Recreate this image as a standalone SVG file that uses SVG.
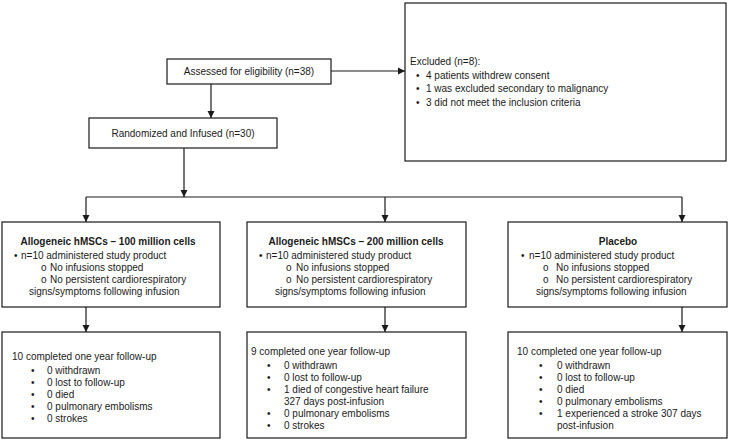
<svg xmlns="http://www.w3.org/2000/svg" width="732" height="442" viewBox="0 0 732 442">
<defs>
<marker id="ah" markerWidth="8" markerHeight="8" refX="7" refY="4" orient="auto" markerUnits="userSpaceOnUse">
<path d="M0,0.5 L7,4 L0,7.5 Z" fill="#1a1a1a"/>
</marker>
<style>
.box{fill:#fff;stroke:#1a1a1a;stroke-width:1.2}
.t{font-family:"Liberation Sans",Arial,sans-serif;font-size:10px;fill:#1a1a1a}
.b{font-weight:bold}
.c{text-anchor:middle}
.ln{fill:none;stroke:#1a1a1a;stroke-width:1.2}
</style>
</defs>
<rect width="732" height="442" fill="#fff"/>

<g id="connectors">
<line class="ln" x1="331" y1="71" x2="405" y2="71" marker-end="url(#ah)"/>
<line class="ln" x1="211" y1="84" x2="211" y2="118" marker-end="url(#ah)"/>
<line class="ln" x1="184" y1="148" x2="184" y2="197" marker-end="url(#ah)"/>
<polyline class="ln" points="86,197 682,197"/>
<line class="ln" x1="86" y1="197" x2="86" y2="222" marker-end="url(#ah)"/>
<line class="ln" x1="385" y1="197" x2="385" y2="222" marker-end="url(#ah)"/>
<line class="ln" x1="682" y1="197" x2="682" y2="222" marker-end="url(#ah)"/>
<line class="ln" x1="86" y1="307" x2="86" y2="332" marker-end="url(#ah)"/>
<line class="ln" x1="385" y1="307" x2="385" y2="332" marker-end="url(#ah)"/>
<line class="ln" x1="682" y1="307" x2="682" y2="332" marker-end="url(#ah)"/>
</g>

<g id="assessed">
<rect class="box" x="167" y="59" width="164" height="25"/>
<text class="t c" x="249" y="75">Assessed for eligibility (n=38)</text>
</g>

<g id="excluded">
<rect class="box" x="405" y="3" width="321" height="158"/>
<text class="t" x="410" y="65">Excluded (n=8):</text>
<text class="t" x="416" y="78.5">•</text><text class="t" x="426" y="78.5">4 patients withdrew consent</text>
<text class="t" x="416" y="92">•</text><text class="t" x="426" y="92">1 was excluded secondary to malignancy</text>
<text class="t" x="416" y="105.5">•</text><text class="t" x="426" y="105.5">3 did not meet the inclusion criteria</text>
</g>

<g id="randomized">
<rect class="box" x="89" y="118" width="188" height="30"/>
<text class="t c" x="183" y="137">Randomized and Infused (n=30)</text>
</g>

<g id="group1">
<rect class="box" x="2" y="222" width="218" height="85"/>
<text class="t b c" x="108" y="245">Allogeneic hMSCs – 100 million cells</text>
<text class="t" x="14" y="259">•</text><text class="t" x="21" y="259">n=10 administered study product</text>
<text class="t" x="41" y="271">o</text><text class="t" x="50" y="271">No infusions stopped</text>
<text class="t" x="41" y="283">o</text><text class="t" x="50" y="283">No persistent cardiorespiratory</text>
<text class="t" x="29" y="295">signs/symptoms following infusion</text>
</g>

<g id="group2">
<rect class="box" x="247" y="222" width="219" height="85"/>
<text class="t b c" x="356" y="245">Allogeneic hMSCs – 200 million cells</text>
<text class="t" x="259" y="259">•</text><text class="t" x="266" y="259">n=10 administered study product</text>
<text class="t" x="286" y="271">o</text><text class="t" x="296" y="271">No infusions stopped</text>
<text class="t" x="286" y="283">o</text><text class="t" x="296" y="283">No persistent cardiorespiratory</text>
<text class="t" x="275" y="295">signs/symptoms following infusion</text>
</g>

<g id="group3">
<rect class="box" x="508" y="222" width="219" height="85"/>
<text class="t b c" x="618" y="245">Placebo</text>
<text class="t" x="521" y="259">•</text><text class="t" x="529" y="259">n=10 administered study product</text>
<text class="t" x="543" y="271">o</text><text class="t" x="556" y="271">No infusions stopped</text>
<text class="t" x="543" y="283">o</text><text class="t" x="556" y="283">No persistent cardiorespiratory</text>
<text class="t" x="536" y="295">signs/symptoms following infusion</text>
</g>

<g id="followup1">
<rect class="box" x="2" y="332" width="218" height="106"/>
<text class="t" x="12" y="360">10 completed one year follow-up</text>
<text class="t" x="31" y="374">•</text><text class="t" x="47" y="374">0 withdrawn</text>
<text class="t" x="31" y="386">•</text><text class="t" x="47" y="386">0 lost to follow-up</text>
<text class="t" x="31" y="398">•</text><text class="t" x="47" y="398">0 died</text>
<text class="t" x="31" y="410">•</text><text class="t" x="47" y="410">0 pulmonary embolisms</text>
<text class="t" x="31" y="422">•</text><text class="t" x="47" y="422">0 strokes</text>
</g>

<g id="followup2">
<rect class="box" x="247" y="332" width="219" height="106"/>
<text class="t" x="251" y="355">9 completed one year follow-up</text>
<text class="t" x="267" y="369">•</text><text class="t" x="284" y="369">0 withdrawn</text>
<text class="t" x="267" y="381">•</text><text class="t" x="284" y="381">0 lost to follow-up</text>
<text class="t" x="267" y="393">•</text><text class="t" x="284" y="393">1 died of congestive heart failure</text>
<text class="t" x="284" y="405">327 days post-infusion</text>
<text class="t" x="267" y="417">•</text><text class="t" x="284" y="417">0 pulmonary embolisms</text>
<text class="t" x="267" y="429">•</text><text class="t" x="284" y="429">0 strokes</text>
</g>

<g id="followup3">
<rect class="box" x="508" y="332" width="219" height="106"/>
<text class="t" x="517" y="355">10 completed one year follow-up</text>
<text class="t" x="539" y="369">•</text><text class="t" x="557" y="369">0 withdrawn</text>
<text class="t" x="539" y="381">•</text><text class="t" x="557" y="381">0 lost to follow-up</text>
<text class="t" x="539" y="393">•</text><text class="t" x="557" y="393">0 died</text>
<text class="t" x="539" y="405">•</text><text class="t" x="557" y="405">0 pulmonary embolisms</text>
<text class="t" x="539" y="417">•</text><text class="t" x="557" y="417">1 experienced a stroke 307 days</text>
<text class="t" x="557" y="429">post-infusion</text>
</g>
</svg>
